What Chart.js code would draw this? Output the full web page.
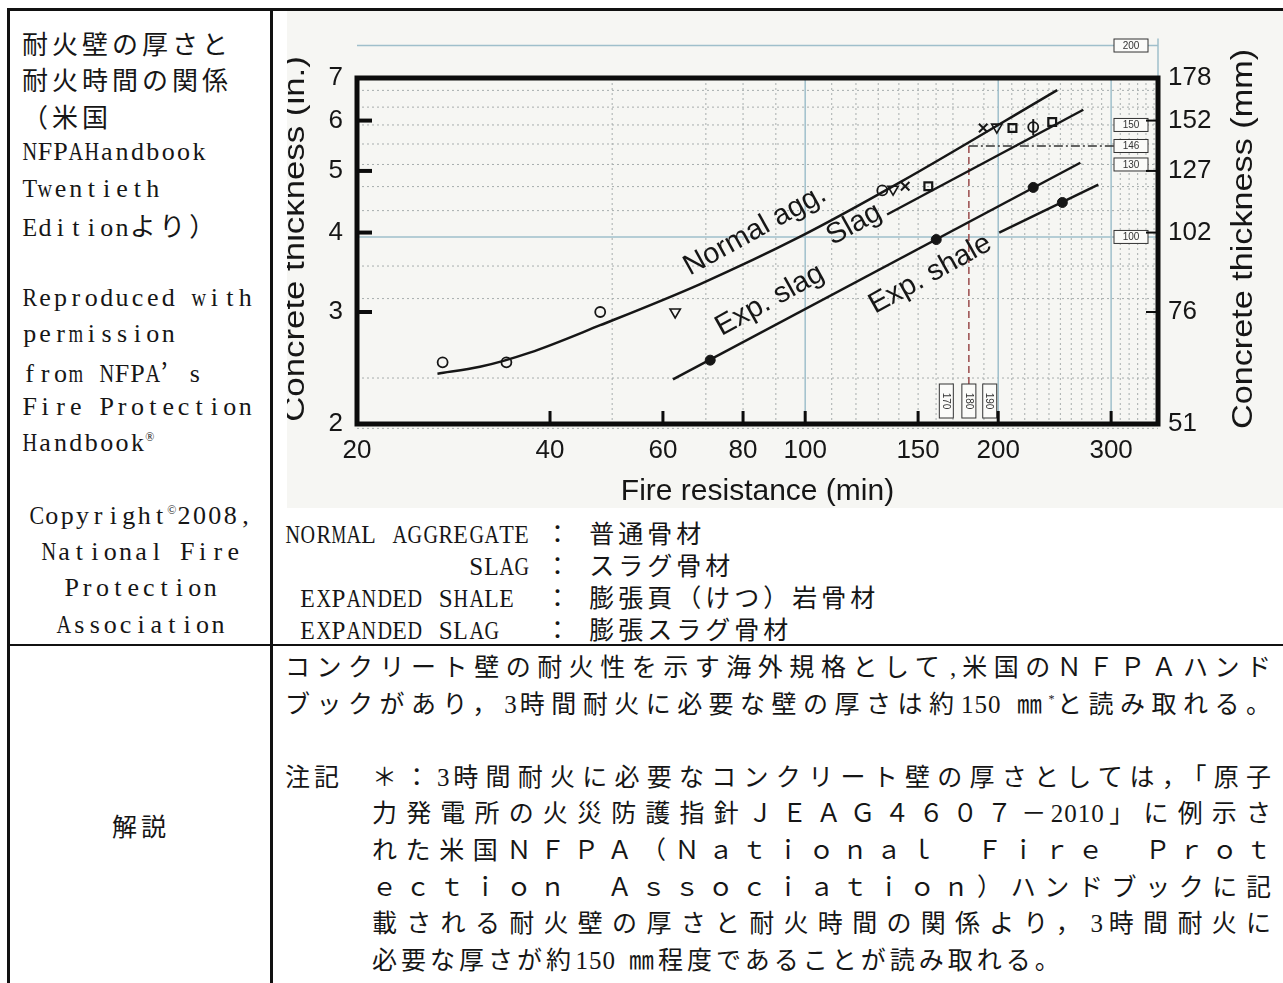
<!DOCTYPE html>
<html>
<head>
<meta charset="utf-8">
<script src="https://cdn.jsdelivr.net/npm/chart.js@4.4.0/dist/chart.umd.min.js"></script>
<style>
  html, body { margin: 0; padding: 0; background: #fff; }
  body { width: 1283px; height: 983px; overflow: hidden; position: relative;
         font-family: "Liberation Serif", "Noto Sans CJK JP", serif; color: #161616; }
  .ln { position: absolute; background: #111; }
  .j { font-family: "Noto Sans CJK JP"; letter-spacing: 4px; }
  .m { display: inline-flex; justify-content: center; width: var(--cw); }
  .row { height: 36.4px; line-height: 36.4px; white-space: nowrap; }
  #leftTop { position: absolute; left: 22px; top: 25px; font-size: 26px; --cw: 15.4px; }
  #leftCopy { position: absolute; left: 10px; width: 262px; top: 497.6px; font-size: 26px; text-align: center; --cw: 15.4px; }
  #chartBox { position: absolute; left: 287px; top: 11px; width: 996px; height: 497px; }
  #legend { position: absolute; left: 285px; top: 516px; font-size: 25px; --cw: 15.3px; }
  #legend .t { height: 32px; line-height: 32px; white-space: nowrap; }
  #kaisetsu { position: absolute; left: 10px; width: 262px; top: 807px; font-size: 25px; line-height: 36.5px; text-align: center; }
  #note { position: absolute; left: 285px; top: 647px; width: 990px; font-size: 25px; --cw: 13.5px; }
  #note .t { position: relative; height: 36.6px; line-height: 36.6px; text-align: justify; text-align-last: justify; white-space: nowrap; }
  #note .last { text-align-last: left; }
  #note .ind { margin-left: 87px; }
  #note .hang { position: absolute; left: -87px; top: 0; }
  sup { font-size: 12px; vertical-align: 10px; line-height: 0; }
</style>
</head>
<body>
<div class="ln" style="left:7px;top:8px;width:1276px;height:3px"></div>
<div class="ln" style="left:7px;top:8px;width:3px;height:975px"></div>
<div class="ln" style="left:270px;top:8px;width:3px;height:975px"></div>
<div class="ln" style="left:7px;top:644px;width:1276px;height:2px"></div>

<div id="leftTop">
  <div class="row t">耐火壁の厚さと</div>
  <div class="row t">耐火時間の関係</div>
  <div class="row t">（米国</div>
  <div class="row t">NFPAHandbook</div>
  <div class="row t">Twentieth</div>
  <div class="row t">Editionより）</div>
  <div class="row t"></div>
  <div class="row t">Reproduced with</div>
  <div class="row t">permission</div>
  <div class="row t">from NFPA’ s</div>
  <div class="row t">Fire Protection</div>
  <div class="row t">Handbook<sup>®</sup></div>
</div>
<div id="leftCopy">
  <div class="row t">Copyright<sup>©</sup>2008,</div>
  <div class="row t">National Fire</div>
  <div class="row t">Protection</div>
  <div class="row t">Association</div>
</div>

<div id="chartBox"><canvas id="chart" width="996" height="497"></canvas></div>

<div id="legend">
  <div class="t">NORMAL AGGREGATE ： 普通骨材</div>
  <div class="t">            SLAG ： スラグ骨材</div>
  <div class="t"> EXPANDED SHALE  ： 膨張頁（けつ）岩骨材</div>
  <div class="t"> EXPANDED SLAG   ： 膨張スラグ骨材</div>
</div>

<div id="kaisetsu"><span class="j">解説</span></div>

<div id="note">
  <div class="t">コンクリート壁の耐火性を示す海外規格として,米国のＮＦＰＡハンド</div>
  <div class="t">ブックがあり，3時間耐火に必要な壁の厚さは約150 ㎜<sup>*</sup>と読み取れる。</div>
  <div class="t last"></div>
  <div class="t ind"><span class="hang t">注記</span>＊：3時間耐火に必要なコンクリート壁の厚さとしては，「原子</div>
  <div class="t ind">力発電所の火災防護指針ＪＥＡＧ４６０７－2010」に例示さ</div>
  <div class="t ind">れた米国ＮＦＰＡ（Ｎａｔｉｏｎａｌ　Ｆｉｒｅ　Ｐｒｏｔ</div>
  <div class="t ind">ｅｃｔｉｏｎ　Ａｓｓｏｃｉａｔｉｏｎ）ハンドブックに記</div>
  <div class="t ind">載される耐火壁の厚さと耐火時間の関係より，3時間耐火に</div>
  <div class="t ind last">必要な厚さが約150 ㎜程度であることが読み取れる。</div>
</div>

<script>
// --- axis ticks ---
const xTicks = [20, 40, 60, 80, 100, 150, 200, 300];
const yTicksIn = [2, 3, 4, 5, 6, 7];
const innerTicksIn = [3, 4, 5, 6];

// --- paper grid of the scanned figure ---
const gridMin = [50, 70, 80, 90, 110, 120, 130, 140, 150, 160, 170, 190, 210, 220, 230, 240, 250, 260, 270, 280, 290, 310, 320, 330, 340, 350];
const blueMin = [100, 200, 300];
const gridMm = [50, 60, 80, 90, 110, 120, 130, 140, 150, 160, 170];
const blueMm = [100, 200];

// --- curves (min, in.) ---
const normalX = [26.7, 31.1, 37.2, 47.9, 68.6, 98.2, 140.7, 247.2];
const normalY = [2.40, 2.46, 2.59, 2.86, 3.32, 3.94, 4.80, 6.70];
const slagX = [134.2, 271.5];
const slagY = [4.27, 6.24];
const expSlagX = [62.2, 268.6];
const expSlagY = [2.35, 5.15];
const expShaleX = [200.7, 286.5];
const expShaleY = [4.0, 4.76];

// --- test points ---
const circleX = [27.2, 34.2, 47.9, 131.9];
const circleY = [2.5, 2.5, 3.0, 4.66];
const triX = [62.7, 137.1, 199];
const triY = [3.0, 4.68, 5.86];
const crossX = [143.2, 189.5];
const crossY = [4.73, 5.84];
const squareX = [155.6, 210.5, 242.8];
const squareY = [4.73, 5.84, 5.97];
const phiX = [226.8];
const phiY = [5.86];
const dotX = [71.1, 160.1, 226.8, 251.8];
const dotY = [2.52, 3.90, 4.71, 4.46];

// --- labels along the curves ---
const curveLabels = ["Normal agg.", "Slag", "Exp. slag", "Exp. shale"];
const curveLabelX = [83.5, 119.2, 88.1, 156.7];
const curveLabelY = [4.03, 4.12, 3.13, 3.44];

// --- hand-written marks on the figure ---
const refMin = 180;
const refMm = 139;
const sideBoxLabels = ["200", "150", "146", "130", "100"];
const sideBoxMm = [200, 150, 139, 130, 100];
const footBoxLabels = ["170", "180", "190"];
const footBoxMin = [166, 180, 194];

const INK = "#161616";

function pts(xs, ys) {
  return xs.map((x, i) => ({ x: x, y: ys[i] }));
}

// the original text uses full-width kana/kanji and narrow half-width latin:
// CJK runs get extra pitch, latin letters sit in fixed narrow cells
const CJK = /[\u2018-\u201f\u3000-\u30ff\u3300-\u33ff\u4e00-\u9fff\uff00-\uffef]/;
const meas = document.createElement("canvas").getContext("2d");
document.querySelectorAll(".t").forEach(el => {
  const cs = getComputedStyle(el);
  const fs = parseFloat(cs.fontSize);
  const cw = parseFloat(cs.getPropertyValue("--cw"));
  meas.font = fs + "px 'Liberation Serif'";
  Array.from(el.childNodes).forEach(n => {
    if (n.nodeType !== 3) return;
    const frag = document.createDocumentFragment();
    let run = null;
    for (const ch of n.nodeValue) {
      if (CJK.test(ch)) {
        if (!run) { run = document.createElement("span"); run.className = "j"; frag.appendChild(run); }
        run.textContent += ch;
      } else {
        run = null;
        const c = document.createElement("span");
        c.className = "m";
        if (ch === " ") {
          c.textContent = "\u00a0";
        } else {
          c.textContent = ch;
          const w = meas.measureText(ch).width;
          const s = Math.min(1, (cw * 0.95) / w);
          if (s < 1) c.style.transform = "scaleX(" + s.toFixed(3) + ")";
        }
        frag.appendChild(c);
      }
    }
    n.replaceWith(frag);
  });
});

function line(ctx, x1, y1, x2, y2) {
  ctx.beginPath();
  ctx.moveTo(x1, y1);
  ctx.lineTo(x2, y2);
  ctx.stroke();
}

const paper = {
  id: "paper",
  beforeDraw(chart) {
    const ctx = chart.ctx;
    ctx.save();
    ctx.fillStyle = "#f6f6f3";
    ctx.fillRect(0, 0, chart.width, chart.height);
    ctx.restore();
  },
  beforeDatasetsDraw(chart) {
    const { ctx, chartArea: a } = chart;
    const x = chart.scales.x, y = chart.scales.y;
    ctx.save();
    // dotted paper grid
    ctx.strokeStyle = "#a7adad";
    ctx.lineWidth = 1;
    ctx.setLineDash([2, 3]);
    gridMin.forEach(v => { const px = x.getPixelForValue(v); line(ctx, px, a.top, px, a.bottom); });
    gridMm.forEach(v => { const py = y.getPixelForValue(v / 25.4); line(ctx, a.left, py, a.right, py); });
    // blue guide lines
    ctx.setLineDash([]);
    ctx.strokeStyle = "#9fbfcb";
    ctx.lineWidth = 1.5;
    blueMin.forEach(v => { const px = x.getPixelForValue(v); line(ctx, px, a.top, px, a.bottom); });
    blueMm.forEach(v => { const py = y.getPixelForValue(v / 25.4); line(ctx, a.left, py, a.right, py); });
    const top200 = y.getPixelForValue(200 / 25.4);
    line(ctx, a.right, top200 - 7, a.right, a.top);
    // 180 min reference
    const rx = x.getPixelForValue(refMin), ry = y.getPixelForValue(refMm / 25.4);
    ctx.strokeStyle = "#9a4b4b";
    ctx.lineWidth = 1.5;
    ctx.setLineDash([7, 4]);
    line(ctx, rx, ry, rx, a.bottom - 4);
    ctx.strokeStyle = "#333";
    ctx.setLineDash([9, 3, 2, 3]);
    line(ctx, rx, ry, a.right - 8, ry);
    ctx.setLineDash([]);
    // small boxes at the right
    ctx.font = "10px 'Liberation Sans'";
    ctx.textAlign = "center";
    ctx.textBaseline = "middle";
    sideBoxLabels.forEach((t, i) => {
      const py = y.getPixelForValue(sideBoxMm[i] / 25.4);
      const bx = a.right - 44;
      ctx.fillStyle = "#fbfbf9";
      ctx.fillRect(bx, py - 6.5, 34, 13);
      ctx.strokeStyle = "#333";
      ctx.lineWidth = 1;
      ctx.strokeRect(bx, py - 6.5, 34, 13);
      ctx.fillStyle = "#333";
      ctx.fillText(t, bx + 17, py + 0.5);
    });
    // small boxes at the bottom
    footBoxLabels.forEach((t, i) => {
      const px = x.getPixelForValue(footBoxMin[i]);
      ctx.fillStyle = "#fbfbf9";
      ctx.fillRect(px - 7, a.bottom - 40, 14, 34);
      ctx.strokeStyle = "#333";
      ctx.strokeRect(px - 7, a.bottom - 40, 14, 34);
      ctx.save();
      ctx.translate(px, a.bottom - 23);
      ctx.rotate(Math.PI / 2);
      ctx.fillStyle = "#333";
      ctx.fillText(t, 0, 0.5);
      ctx.restore();
    });
    ctx.restore();
  },
  afterDatasetsDraw(chart) {
    const { ctx, chartArea: a } = chart;
    const x = chart.scales.x, y = chart.scales.y;
    ctx.save();
    // heavy frame
    ctx.strokeStyle = "#0c0c0c";
    ctx.lineWidth = 5;
    ctx.strokeRect(a.left, a.top, a.right - a.left, a.bottom - a.top);
    // inner tick marks
    ctx.lineWidth = 4;
    innerTicksIn.forEach(v => { const py = y.getPixelForValue(v); line(ctx, a.left, py, a.left + 15, py); });
    ctx.lineWidth = 3;
    xTicks.slice(1).forEach(v => { const px = x.getPixelForValue(v); line(ctx, px, a.bottom, px, a.bottom - 13); });
    ctx.lineWidth = 2;
    innerTicksIn.forEach(v => { const py = y.getPixelForValue(v); line(ctx, a.right, py, a.right - 12, py); });
    // curve labels
    ctx.fillStyle = INK;
    ctx.font = "29px 'Liberation Sans'";
    ctx.textAlign = "center";
    ctx.textBaseline = "middle";
    curveLabels.forEach((t, i) => {
      ctx.save();
      ctx.translate(x.getPixelForValue(curveLabelX[i]), y.getPixelForValue(curveLabelY[i]));
      ctx.rotate(-29 * Math.PI / 180);
      ctx.fillText(t, 0, 0);
      ctx.restore();
    });
    // axis titles
    ctx.font = "30px 'Liberation Sans'";
    ctx.textBaseline = "alphabetic";
    ctx.fillText("Fire resistance (min)", (a.left + a.right) / 2, a.bottom + 76);
    const cy = (a.top + a.bottom) / 2 - 12;
    ctx.save();
    ctx.translate(a.left - 53, cy);
    ctx.rotate(-Math.PI / 2);
    ctx.scale(1.16, 1);
    ctx.fillText("Concrete thickness (in.)", 0, 0);
    ctx.restore();
    ctx.save();
    ctx.translate(a.right + 94, cy);
    ctx.rotate(-Math.PI / 2);
    ctx.scale(1.14, 1);
    ctx.fillText("Concrete thickness (mm)", 0, 0);
    ctx.restore();
    ctx.restore();
  }
};

const tickFont = { family: "Liberation Sans", size: 26 };

new Chart(document.getElementById("chart"), {
  type: "scatter",
  data: {
    datasets: [
      { data: pts(normalX, normalY), showLine: true, cubicInterpolationMode: "monotone", borderColor: INK, borderWidth: 2.5, pointRadius: 0 },
      { data: pts(slagX, slagY), showLine: true, borderColor: INK, borderWidth: 2.5, pointRadius: 0 },
      { data: pts(expSlagX, expSlagY), showLine: true, borderColor: INK, borderWidth: 2.5, pointRadius: 0 },
      { data: pts(expShaleX, expShaleY), showLine: true, borderColor: INK, borderWidth: 2.5, pointRadius: 0 },
      { data: pts(circleX, circleY), pointStyle: "circle", pointRadius: 5, borderColor: INK, borderWidth: 1.8, backgroundColor: "rgba(0,0,0,0)" },
      { data: pts(triX, triY), pointStyle: "triangle", rotation: 180, pointRadius: 6, borderColor: INK, borderWidth: 1.6, backgroundColor: "rgba(0,0,0,0)" },
      { data: pts(crossX, crossY), pointStyle: "crossRot", pointRadius: 6, borderColor: INK, borderWidth: 2 },
      { data: pts(squareX, squareY), pointStyle: "rect", pointRadius: 5.5, borderColor: INK, borderWidth: 2.2, backgroundColor: "rgba(0,0,0,0)" },
      { data: pts(phiX, phiY), pointStyle: "circle", pointRadius: 5, borderColor: INK, borderWidth: 1.8, backgroundColor: "rgba(0,0,0,0)" },
      { data: pts(phiX, phiY), pointStyle: "line", rotation: 90, pointRadius: 8, borderColor: INK, borderWidth: 2 },
      { data: pts(dotX, dotY), pointStyle: "circle", pointRadius: 5, borderColor: INK, borderWidth: 1, backgroundColor: INK }
    ]
  },
  options: {
    responsive: false,
    animation: false,
    layout: { padding: { top: 67, left: 0, right: 0, bottom: 0 } },
    plugins: { legend: { display: false }, tooltip: { enabled: false } },
    scales: {
      x: {
        type: "logarithmic", position: "bottom", min: 20, max: 355,
        afterBuildTicks: s => { s.ticks = xTicks.map(v => ({ value: v })); },
        afterFit: s => { s.height = 84; },
        grid: { display: false, drawTicks: false }, border: { display: false },
        ticks: { font: tickFont, color: INK, padding: 11, maxRotation: 0, autoSkip: false, callback: v => String(v) }
      },
      y: {
        type: "logarithmic", position: "left", min: 2, max: 7,
        afterBuildTicks: s => { s.ticks = yTicksIn.map(v => ({ value: v })); },
        afterFit: s => { s.width = 70; },
        grid: { display: false, drawTicks: false }, border: { display: false },
        ticks: { font: tickFont, color: INK, padding: 14, autoSkip: false, callback: v => String(v) }
      },
      y2: {
        type: "logarithmic", position: "right", min: 2, max: 7,
        afterBuildTicks: s => { s.ticks = yTicksIn.map(v => ({ value: v })); },
        afterFit: s => { s.width = 125; },
        grid: { display: false, drawTicks: false }, border: { display: false },
        ticks: { font: tickFont, color: INK, padding: 10, autoSkip: false, callback: v => String(Math.round(v * 25.4)) }
      }
    }
  },
  plugins: [paper]
});
</script>
</body>
</html>
